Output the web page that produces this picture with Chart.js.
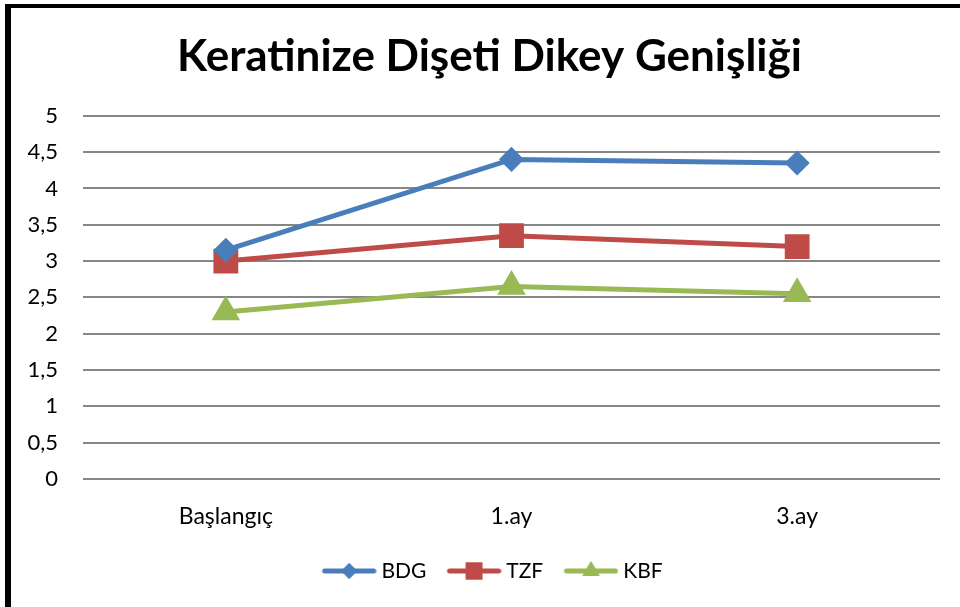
<!DOCTYPE html>
<html>
<head>
<meta charset="utf-8">
<script src="https://cdn.jsdelivr.net/npm/chart.js@4.4.0/dist/chart.umd.min.js"></script>
<style>
  html, body { margin: 0; padding: 0; background: #fff; }
  #frame {
    position: absolute; left: 5px; top: 4px;
    width: 949px; height: 599px;
    border-top: 4px solid #000;
    border-left: 6px solid #000;
    border-bottom: 2px solid #7f7f7f;
  }
  #chartBox { position: relative; width: 949px; height: 599px; }
</style>
</head>
<body>
<div id="frame"><div id="chartBox"><canvas id="kdgChart"></canvas></div></div>
<script>
const categories = ['Başlangıç', '1.ay', '3.ay'];
const bdgValues = [3.15, 4.4, 4.35];
const tzfValues = [3.0, 3.35, 3.2];
const kbfValues = [2.3, 2.65, 2.55];
const yTicks = [0, 0.5, 1, 1.5, 2, 2.5, 3, 3.5, 4, 4.5, 5];

const FONT = 'Lato, "Open Sans", sans-serif';

// line + marker swatch for the legend (Excel style), left side kept empty as spacing
function legendSwatch(color, style) {
  const c = document.createElement('canvas');
  c.width = 66; c.height = 24;
  const ctx = c.getContext('2d');
  ctx.strokeStyle = color;
  ctx.lineWidth = 5;
  ctx.lineCap = 'round';
  ctx.beginPath();
  ctx.moveTo(14, 12); ctx.lineTo(63, 12);
  ctx.stroke();
  ctx.fillStyle = color;
  Chart.helpers.drawPoint(ctx, { pointStyle: style, radius: style === 'rect' ? 12 : (style === 'triangle' ? 10 : 8), borderWidth: 0 }, 38.5, 12);
  ctx.fill();
  return c;
}

// title and legend are centred on the whole frame, not on the plot
const centreShift = {
  id: 'centreShift',
  afterLayout(chart) {
    [chart.titleBlock, chart.legend].forEach(b => {
      if (b) { b.left += 14; b.right += 14; }
    });
  }
};

const ctx = document.getElementById('kdgChart');
new Chart(ctx, {
  type: 'line',
  data: {
    labels: categories,
    datasets: [
      { label: 'BDG', data: bdgValues, borderColor: '#4A7EBB', backgroundColor: '#4A7EBB',
        pointStyle: 'rectRot', pointRadius: 9, pointHoverRadius: 9, borderWidth: 5 },
      { label: 'TZF', data: tzfValues, borderColor: '#BE4B48', backgroundColor: '#BE4B48',
        pointStyle: 'rect', pointRadius: 14, pointHoverRadius: 14, borderWidth: 5 },
      { label: 'KBF', data: kbfValues, borderColor: '#98B954', backgroundColor: '#98B954',
        pointStyle: 'triangle', pointRadius: 11.5, pointHoverRadius: 11.5, borderWidth: 5 }
    ]
  },
  plugins: [centreShift],
  options: {
    responsive: true,
    maintainAspectRatio: false,
    animation: false,
    layout: { padding: { left: 0, right: 20, top: 0, bottom: 15.5 } },
    plugins: {
      tooltip: { enabled: false },
      title: {
        display: true,
        text: 'Keratinize Dişeti Dikey Genişliği',
        color: '#000',
        font: { family: FONT, size: 44, weight: 'bold' },
        padding: { top: 22, bottom: 33 }
      },
      legend: {
        position: 'bottom',
        labels: {
          color: '#000',
          font: { family: FONT, size: 21 },
          usePointStyle: true,
          pointStyleWidth: 54.5,
          padding: 15,
          generateLabels: function(chart) {
            return chart.data.datasets.map((ds, i) => ({
              text: ds.label,
              fontColor: '#000',
              pointStyle: legendSwatch(ds.borderColor, ds.pointStyle),
              datasetIndex: i,
              hidden: false,
              lineWidth: 0
            }));
          }
        }
      }
    },
    scales: {
      x: {
        offset: true,
        afterFit: function(scale) { scale.height = 66.5; },
        grid: { display: false, drawTicks: false },
        border: { display: false },
        ticks: { color: '#000', font: { family: FONT, size: 23 }, padding: 24 }
      },
      y: {
        min: 0, max: 5,
        afterFit: function(scale) { scale.width = 72; },
        afterBuildTicks: function(scale) { scale.ticks = yTicks.map(v => ({ value: v })); },
        grid: { color: '#868686', lineWidth: 2, drawTicks: false },
        border: { display: false },
        ticks: {
          color: '#000', font: { family: FONT, size: 22 }, padding: 25,
          callback: v => String(v).replace('.', ',')
        }
      }
    }
  }
});
</script>
</body>
</html>
